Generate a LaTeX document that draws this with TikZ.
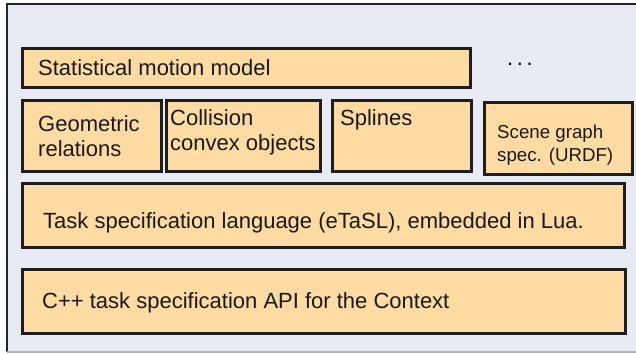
\documentclass[tikz,border=0pt]{standalone}
\usepackage{fontspec}
\setmainfont{Liberation Sans}
\usetikzlibrary{calc}
\definecolor{bgframe}{HTML}{E8EBF4}
\definecolor{boxfill}{HTML}{FDDBA2}
\definecolor{boxline}{HTML}{1E1E1E}
\tikzset{
  blok/.style={draw=boxline, fill=boxfill, line width=2.6pt, rectangle, anchor=north west, inner sep=0pt},
  txt/.style={anchor=west, align=left, inner sep=0pt, text=black!90, font=\fontsize{22}{25}\selectfont},
  smalltxt/.style={txt, font=\fontsize{18.7}{23}\selectfont}
}

\begin{document}
\begin{tikzpicture}[x=1pt, y=-1pt]
            \useasboundingbox (0,0) rectangle (636,354);
            % outer frame
            \fill[bgframe] (7,4) rectangle (636,352);
            \draw[black!85, line width=2pt] (636,4) -- (7,4) -- (7,352);
            \draw[black!30, line width=1.5pt] (7,352) -- (636,352);

            % top row
            \node[blok, minimum width=448pt, minimum height=39pt] (stat) at (21,47) {};
            \node[txt] (statlbl) at ($(stat.west)+(17,0)$) {Statistical motion model};
            \node[inner sep=0pt, font=\fontsize{22}{25}\selectfont] (dots) at (520,64) {.\,.\,.};

            % second row
            \node[blok, minimum width=139pt, minimum height=71pt] (geom) at (21,99) {};
            \node[txt] (geomlbl) at ($(geom.west)+(17,0)$) {Geometric\\relations};
            \node[blok, minimum width=154pt, minimum height=71pt] (coll) at (165,99) {};
            \node[txt] (colllbl) at ($(coll.west)+(5,-3)$) {Collision\\convex objects};
            \node[blok, minimum width=139pt, minimum height=71pt] (spl) at (331,99) {};
            \node[txt, anchor=north west] (spllbl) at ($(spl.north west)+(9,10)$) {Splines};
            \node[blok, minimum width=148pt, minimum height=72pt] (scene) at (483,101) {};
            \node[smalltxt] (scenelbl) at ($(scene.west)+(14,7)$) {Scene graph\\spec. (URDF)};

            % lower layers
            \node[blok, minimum width=602pt, minimum height=64pt] (task) at (21,182) {};
            \node[txt] (tasklbl) at ($(task.west)+(22,8)$) {Task specification language (eTaSL), embedded in Lua.};
            \node[blok, minimum width=603pt, minimum height=64pt] (api) at (21,268) {};
            \node[txt] (apilbl) at ($(api.west)+(21,2)$) {C++ task specification API for the Context};
\end{tikzpicture}
\end{document}
